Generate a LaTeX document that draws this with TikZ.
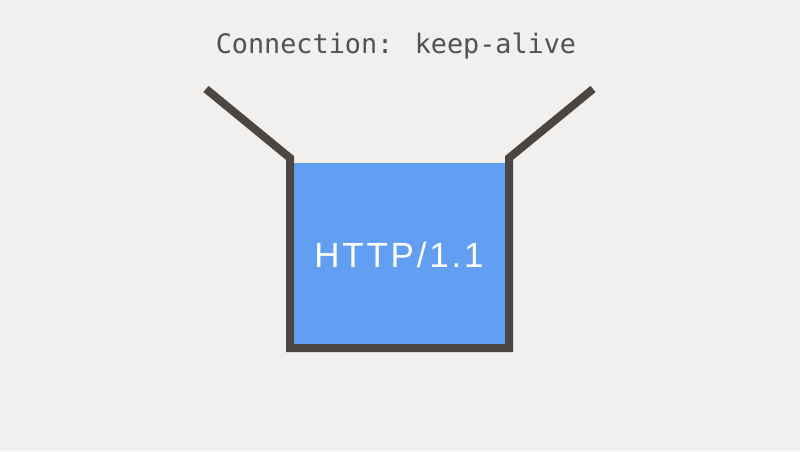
\documentclass[tikz,border=0pt]{standalone}
\usepackage{fontspec}
\newfontfamily\monofont{DejaVu Sans Mono}
\newfontfamily\labelfont[LetterSpace=8]{Liberation Sans}
\definecolor{bg}{HTML}{F2F0EE}
\definecolor{wall}{HTML}{4A4644}
\definecolor{water}{HTML}{629FF2}
\definecolor{txt}{HTML}{545151}
\begin{document}
\begin{tikzpicture}[x=1pt,y=-1pt,
  wallline/.style={draw=wall,line width=8pt,line join=miter},
  headtext/.style={text=txt,font=\monofont\fontsize{26.8}{30}\selectfont,inner sep=0pt},
  bodytext/.style={text=white,font=\labelfont\fontsize{35}{40}\selectfont,inner sep=0pt}]
\fill[bg] (0,0) rectangle (800,451);
\useasboundingbox (0,0) rectangle (800,451);
\coordinate (lt) at (206,89);
\coordinate (lc) at (290,158);
\coordinate (lb) at (290,348);
\coordinate (rb) at (509,348);
\coordinate (rc) at (509,158);
\coordinate (rt) at (593,89);
\fill[water] (294,163) rectangle (505,344);
\draw[wallline] (lt) -- (lc) -- (lb) -- (rb) -- (rc) -- (rt);
\node[headtext,anchor=base] (head) at (396,53) {Connection: keep-alive};
\node[bodytext,anchor=base] (proto) at (399,267) {HTTP/1.1};
\end{tikzpicture}
\end{document}
